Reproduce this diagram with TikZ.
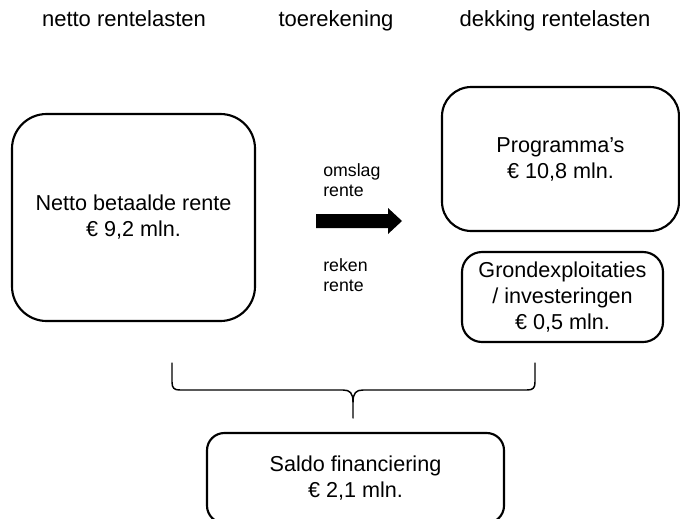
\documentclass[tikz,border=0pt]{standalone}
\usepackage{fontspec}
\setmainfont{Liberation Sans}
\begin{document}
\begin{tikzpicture}[x=0.75pt,y=-0.75pt,
  box/.style={draw=black,line width=1.6pt,align=center,inner sep=0pt,
    font=\fontsize{16.2}{19.5}\selectfont},
  head/.style={font=\fontsize{16.5}{19.5}\selectfont,anchor=base},
  small/.style={font=\fontsize{13.3}{15.5}\selectfont,align=left,anchor=west,inner sep=0pt},
  bracestyle/.style={draw=black,line width=1.1pt,line cap=round,line join=round}]
\useasboundingbox (0,0) rectangle (680,518);
\clip (0,0) rectangle (680,518);
\fill[white] (0,0) rectangle (680,518);

% headers
\node[head] (h1) at (124,26) {netto rentelasten};
\node[head] (h2) at (336,26) {toerekening};
\node[head] (h3) at (555,26) {dekking rentelasten};

% boxes
\node[box,rounded corners=26pt,minimum width=182.25pt,minimum height=155.25pt]
  (netto) at (133.5,217.5) {Netto betaalde rente\\€ 9,2 mln.};
\node[box,rounded corners=22pt,minimum width=177.75pt,minimum height=108pt]
  (prog) at (560.5,159) {Programma’s\\€ 10,8 mln.};
\node[box,rounded corners=15pt,minimum width=150.75pt,minimum height=67.5pt]
  (grond) at (562.5,297) {Grondexploitaties\\/ investeringen\\€ 0,5 mln.};
\node[box,rounded corners=13pt,minimum width=222.75pt,minimum height=67.5pt]
  (saldo) at (355.5,478) {Saldo financiering\\€ 2,1 mln.};

% labels
\node[small] (omslag) at (323,180) {omslag\\rente};
\node[small] (reken) at (323,275) {reken\\rente};

% thick arrow
\fill[black] (316,214) -- (388,214) -- (388,208) -- (402,221) -- (388,234) -- (388,228) -- (316,228) -- cycle;

% brace
\coordinate (bl) at (172,363);
\coordinate (br) at (535,363);
\coordinate (tip) at (353,418);
\draw[bracestyle] (bl) -- (172,382) .. controls (172,388) and (174,390) .. (180,390)
  -- (343,390) .. controls (350,390) and (353,393) .. (353,402) -- (tip);
\draw[bracestyle] (br) -- (535,382) .. controls (535,388) and (533,390) .. (527,390)
  -- (363,390) .. controls (356,390) and (353,393) .. (353,402);
\end{tikzpicture}
\end{document}
